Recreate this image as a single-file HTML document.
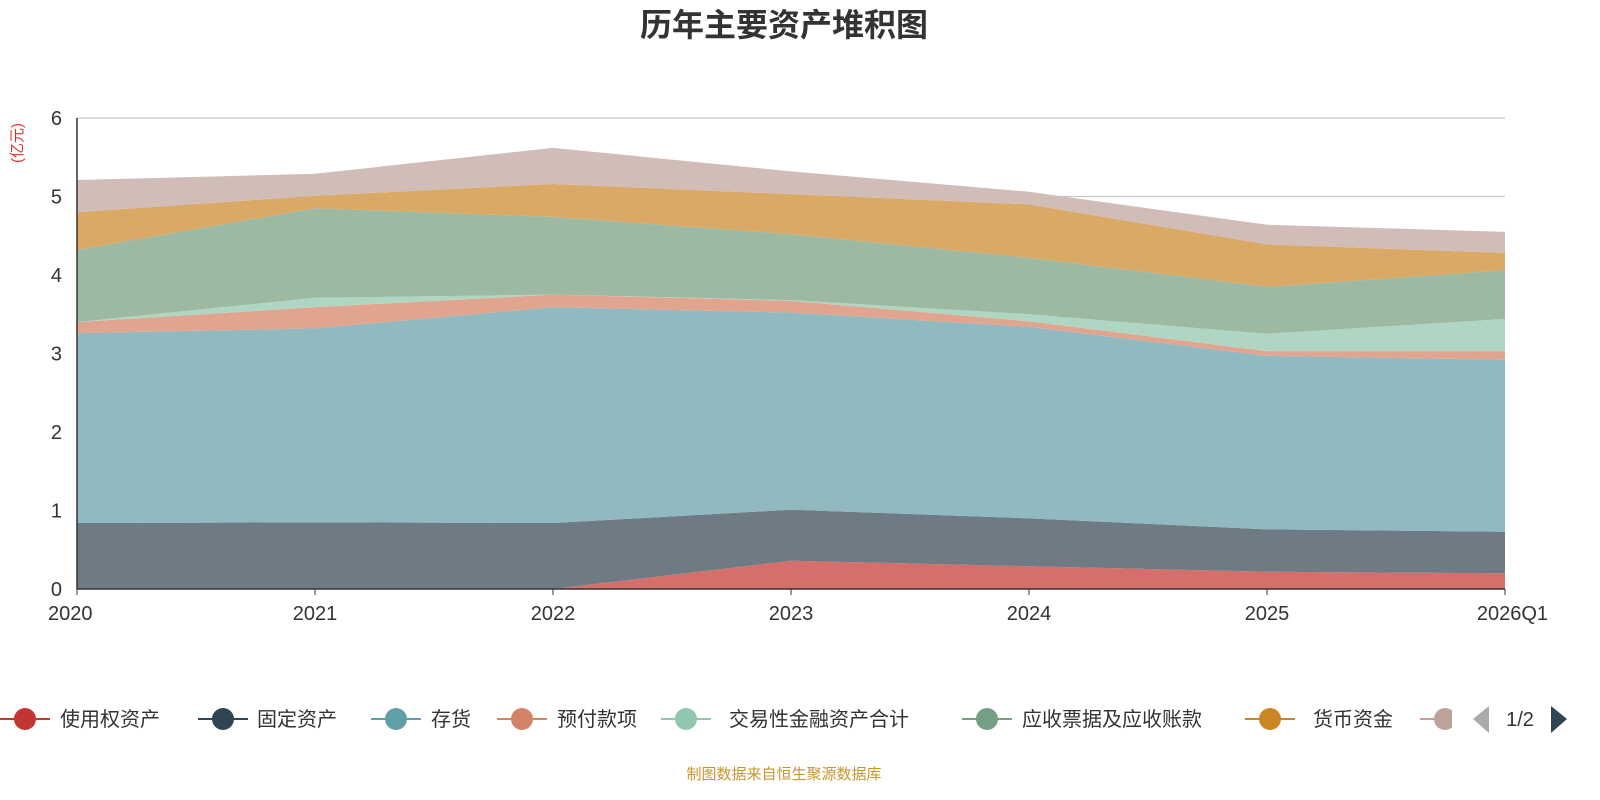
<!DOCTYPE html>
<html><head><meta charset="utf-8"><style>
html,body{margin:0;padding:0;background:#fff;width:1600px;height:800px;overflow:hidden}
text{font-family:"Liberation Sans","Noto Sans CJK SC",sans-serif}
</style></head><body>
<svg id="chart" width="1600" height="800" xmlns="http://www.w3.org/2000/svg">
<text x="784" y="36" text-anchor="middle" font-size="32" font-weight="bold" fill="#333">历年主要资产堆积图</text>
<text transform="translate(22,143) rotate(-90)" text-anchor="middle" font-size="15" fill="#e03030">(亿元)</text>
<g id="grid"></g><g id="areas"></g><g id="axes"></g><g id="legend"></g>
<text x="784" y="779" text-anchor="middle" font-size="15" fill="#c8962a">制图数据来自恒生聚源数据库</text>
</svg>
<script>
const categories=["2020","2021","2022","2023","2024","2025","2026Q1"];
const seriesNames=["使用权资产","固定资产","存货","预付款项","交易性金融资产合计","应收票据及应收账款","货币资金","其他"];
const sRightOfUse=[0,0,0,0.36,0.29,0.22,0.20];
const sFixed=[0.84,0.85,0.84,0.65,0.61,0.54,0.53];
const sInventory=[2.42,2.47,2.75,2.51,2.44,2.21,2.19];
const sPrepay=[0.14,0.27,0.16,0.15,0.07,0.06,0.11];
const sTrading=[0,0.12,0,0.01,0.09,0.22,0.41];
const sReceivable=[0.92,1.14,0.99,0.84,0.72,0.60,0.62];
const sCash=[0.48,0.16,0.42,0.51,0.68,0.54,0.22];
const sOther=[0.41,0.28,0.46,0.29,0.16,0.25,0.27];
const yTicks=[0,1,2,3,4,5,6];
const series=[sRightOfUse,sFixed,sInventory,sPrepay,sTrading,sReceivable,sCash,sOther];
const lineColors=["#c23531","#2f4554","#61a0a8","#d48265","#91c7ae","#749f83","#ca8622","#bda29a"];
const fillColors=["#d46f6c","#6e7a84","#91b9c0","#e0a48f","#aed6c3","#9eb9a2","#d9a965","#d0bdb7"];
const X0=77,X1=1505,Y0=589,Y1=118,YMAX=6;
const xs=i=>X0+(X1-X0)*i/(categories.length-1);
const ys=v=>Y0-(Y0-Y1)*v/YMAX;
const NS="http://www.w3.org/2000/svg";
function mk(tag,attrs,parent,txt){const e=document.createElementNS(NS,tag);for(const k in attrs)e.setAttribute(k,attrs[k]);if(txt!=null)e.textContent=txt;parent.appendChild(e);return e;}
const grid=document.getElementById('grid'),areas=document.getElementById('areas'),axes=document.getElementById('axes'),legend=document.getElementById('legend');
yTicks.forEach(t=>{
  if(t>0){const g=mk('line',{x1:X0,x2:X1,y1:ys(t),y2:ys(t),stroke:'#c8c8c8','stroke-width':1.3},grid);
  
  }
  const l=mk('text',{x:62,y:ys(t)+7,'text-anchor':'end','font-size':20,fill:'#333'},axes,String(t));
  
  
});
let base=categories.map(()=>0);
series.forEach((s,k)=>{
  const top=base.map((b,i)=>b+s[i]);
  let d='M'+top.map((v,i)=>xs(i)+','+ys(v)).join('L');
  for(let i=base.length-1;i>=0;i--)d+='L'+xs(i)+','+ys(base[i]);
  const p=mk('path',{d:d+'Z',fill:fillColors[k],stroke:'none'},areas);
  
  
  base=top;
});
const ax=mk('line',{x1:X0,x2:X1,y1:Y0,y2:Y0,stroke:'#333','stroke-width':1.5},axes);


const ay=mk('line',{x1:X0,x2:X0,y1:Y1,y2:Y0,stroke:'#333','stroke-width':1.5},axes);


categories.forEach((c,i)=>{
  const tk=mk('line',{x1:xs(i),x2:xs(i),y1:Y0,y2:Y0+6,stroke:'#333'},axes);
  
  
  const anchor=i==0?'start':(i==categories.length-1?'end':'middle');
  const xx=i==0?48:(i==categories.length-1?1548:xs(i));
  const t=mk('text',{x:xx,y:620,'text-anchor':anchor,'font-size':20,fill:'#333'},axes,c);
  
  
});
const legX=[25,223,396,522,686,987,1270,1445];
const legTX=[60,257,431,557,729,1022,1313,1480];
seriesNames.forEach((n,k)=>{
  const g=mk('g',{},legend);
  
  
  mk('line',{x1:legX[k]-25,x2:legX[k]+25,y1:719,y2:719,stroke:lineColors[k],'stroke-width':2},g);
  mk('circle',{cx:legX[k],cy:719,r:11,fill:lineColors[k]},g);
  if(k<7)mk('text',{x:legTX[k],y:726,'font-size':20,fill:'#333'},g,n);
});
const cover=mk('rect',{x:1452,y:700,width:148,height:40,fill:'#fff'},legend);


const pl=mk('path',{d:'M1489,706L1473,719L1489,733Z',fill:'#aaa'},legend);


const pt=mk('text',{x:1520,y:726,'text-anchor':'middle','font-size':20,fill:'#333'},legend,'1/2');


const pr=mk('path',{d:'M1551,706L1567,719L1551,733Z',fill:'#2f4554'},legend);


</script>
</body></html>
